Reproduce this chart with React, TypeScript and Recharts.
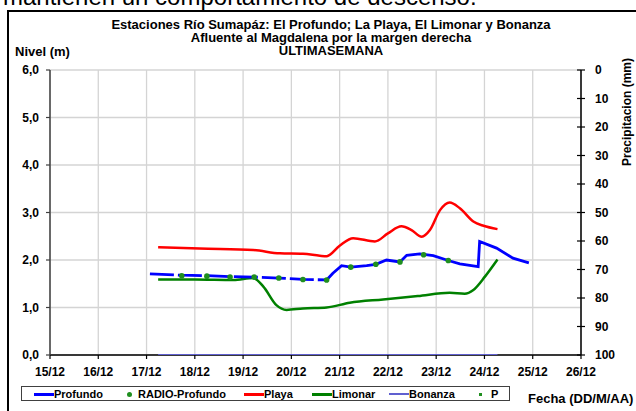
import React from "react";
import { ComposedChart, Line, XAxis, YAxis, CartesianGrid } from "recharts";

// ---- data ----
const dayTicks = [15, 16, 17, 18, 19, 20, 21, 22, 23, 24, 25, 26];
const levelTicks = [0, 1, 2, 3, 4, 5, 6];
const rainTicks = [0, 10, 20, 30, 40, 50, 60, 70, 80, 90, 100];

// Profundo: first stretch has gaps in the record (drawn dashed), second stretch is continuous
const profundoDaysA = [17.07, 17.73, 18.25, 18.73, 19.23, 19.74, 20.24, 20.73];
const profundoLevelsA = [1.71, 1.68, 1.67, 1.65, 1.64, 1.62, 1.59, 1.58];
const profundoDaysB = [20.73, 20.86, 21.04, 21.23, 21.56, 21.75, 21.97, 22.25, 22.39, 22.66, 22.94, 23.25, 23.49, 23.87, 23.9, 24.25, 24.59, 24.92];
const profundoLevelsB = [1.58, 1.72, 1.88, 1.85, 1.88, 1.91, 2.0, 1.96, 2.1, 2.13, 2.09, 1.99, 1.92, 1.86, 2.39, 2.25, 2.04, 1.94];

const radioDays = [17.73, 18.25, 18.73, 19.23, 19.74, 20.24, 20.73, 21.23, 21.75, 22.25, 22.74, 23.25];
const radioLevels = [1.67, 1.66, 1.64, 1.64, 1.62, 1.59, 1.58, 1.85, 1.91, 1.96, 2.11, 1.99];

const playaDays = [17.24, 18.1, 19.21, 19.76, 20.24, 20.59, 20.73, 21.0, 21.28, 21.73, 22.0, 22.28, 22.49, 22.7, 22.87, 23.08, 23.28, 23.49, 23.77, 23.98, 24.27];
const playaLevels = [2.27, 2.24, 2.21, 2.14, 2.13, 2.09, 2.08, 2.3, 2.46, 2.39, 2.56, 2.71, 2.63, 2.49, 2.63, 3.05, 3.21, 3.09, 2.81, 2.72, 2.65];

const limonarDays = [17.24, 18.0, 18.8, 19.21, 19.42, 19.69, 19.9, 20.24, 20.73, 21.21, 21.9, 22.62, 23.28, 23.59, 23.77, 24.01, 24.27];
const limonarLevels = [1.59, 1.59, 1.58, 1.62, 1.44, 1.05, 0.95, 0.98, 1.0, 1.1, 1.17, 1.24, 1.31, 1.29, 1.37, 1.65, 2.01];

const bonanzaDays = [17.24, 24.27];
const bonanzaLevels = [0, 0];

const titleLines = [
  "Estaciones Río Sumapáz: El Profundo; La Playa, El Limonar y Bonanza",
  "Afluente al Magdalena por la margen derecha",
  "ULTIMASEMANA",
];

const toRows = (days: number[], vals: number[]) => days.map((d, i) => ({ d, v: vals[i] }));

const FONT = "'Liberation Sans', Arial, sans-serif";
const BLUE = "#0000ff";
const RED = "#ff0000";
const GREEN = "#008000";
const DOT_GREEN = "#1f8f1f";
const BONANZA = "#6060d0";

function RightTick(props: any) {
  const { x, y, payload } = props;
  return (
    <g>
      <line x1={x - 18} x2={x - 14} y1={y} y2={y} stroke="#000" strokeWidth={1.2} />
      <text x={x} y={y} dy="0.355em" textAnchor="start" fontSize={12} fontWeight="bold" fill="#000" fontFamily={FONT}>
        {payload.value}
      </text>
    </g>
  );
}

const legendItems = [
  { name: "Profundo", kind: "line", color: BLUE, w: 3, left: 33 },
  { name: "RADIO-Profundo", kind: "dot", color: DOT_GREEN, w: 5, left: 126 },
  { name: "Playa", kind: "line", color: RED, w: 3, left: 243 },
  { name: "Limonar", kind: "line", color: GREEN, w: 3, left: 311 },
  { name: "Bonanza", kind: "line", color: BONANZA, w: 1.5, left: 388 },
  { name: "P", kind: "square", color: DOT_GREEN, w: 3, left: 478 },
];

export default function App() {
  const tick = { fill: "#000", fontSize: 12, fontWeight: "bold" as const, fontFamily: FONT };
  return (
    <div style={{ position: "absolute", left: 0, top: 0, width: 636, height: 411, overflow: "hidden", background: "#fff", fontFamily: FONT }}>
      <div style={{ position: "absolute", left: 3, top: -15, fontSize: 24, lineHeight: "24px", whiteSpace: "nowrap", color: "#000" }}>
        mantienen un comportamiento de descenso.
      </div>
      <div style={{ position: "absolute", left: 6.5, top: 9.5, width: 700, height: 500, borderTop: "2.5px solid #000", borderLeft: "2.5px solid #000" }} />

      {titleLines.map((t, i) => (
        <div
          key={t}
          style={{ position: "absolute", left: 81, width: 500, top: [19.1, 31.6, 45.4][i], textAlign: "center", fontSize: 13, lineHeight: "12px", fontWeight: "bold", whiteSpace: "nowrap" }}
        >
          {t}
        </div>
      ))}
      <div style={{ position: "absolute", left: 15, top: 44.9, fontSize: 13, lineHeight: "13px", fontWeight: "bold" }}>Nivel (m)</div>
      <div
        style={{ position: "absolute", left: 627, top: 112, fontSize: 12, lineHeight: "12px", fontWeight: "bold", whiteSpace: "nowrap", transform: "translate(-50%, -50%) rotate(-90deg)" }}
      >
        Precipitacion (mm)
      </div>
      <div style={{ position: "absolute", left: 528, top: 391.6, fontSize: 13, lineHeight: "13px", fontWeight: "bold", whiteSpace: "nowrap" }}>Fecha (DD/M/AA)</div>

      <div style={{ position: "absolute", left: 0, top: 0 }}>
        <ComposedChart width={636} height={411} margin={{ top: 70, right: 0, bottom: 26, left: 0 }}>
          <CartesianGrid yAxisId="left" stroke="#d4d4d4" strokeWidth={1.3} />
          <XAxis
            dataKey="d"
            type="number"
            domain={[15, 26]}
            ticks={dayTicks}
            tickFormatter={(d) => `${d}/12`}
            allowDataOverflow
            height={30}
            tickSize={4}
            tickMargin={8}
            tick={tick}
            stroke="#000"
            axisLine={{ stroke: "#000", strokeWidth: 1.5 }}
            tickLine={{ stroke: "#000", strokeWidth: 1.2 }}
            interval={0}
          />
          <YAxis
            yAxisId="left"
            type="number"
            domain={[0, 6]}
            allowDataOverflow
            ticks={levelTicks}
            tickFormatter={(v) => v.toFixed(1).replace(".", ",")}
            width={50}
            tickSize={4}
            tickMargin={7}
            tick={tick}
            axisLine={{ stroke: "#404040", strokeWidth: 1.5 }}
            tickLine={{ stroke: "#404040", strokeWidth: 1.2 }}
            interval={0}
          />
          <YAxis
            yAxisId="right"
            orientation="right"
            type="number"
            domain={[0, 100]}
            allowDataOverflow
            reversed
            ticks={rainTicks}
            width={55}
            tickSize={4}
            tickMargin={10}
            tick={<RightTick />}
            axisLine={{ stroke: "#000", strokeWidth: 1.5 }}
            tickLine={{ stroke: "#000", strokeWidth: 1.2 }}
            interval={0}
          />
          <Line yAxisId="left" data={toRows(playaDays, playaLevels)} dataKey="v" type="monotone" stroke={RED} strokeWidth={2.5} dot={false} isAnimationActive={false} />
          <Line yAxisId="left" data={toRows(limonarDays, limonarLevels)} dataKey="v" type="monotone" stroke={GREEN} strokeWidth={2.5} dot={false} isAnimationActive={false} />
          <Line
            yAxisId="left"
            data={toRows(profundoDaysA, profundoLevelsA)}
            dataKey="v"
            type="linear"
            stroke={BLUE}
            strokeWidth={2.8}
            strokeDasharray="24 4"
            dot={false}
            isAnimationActive={false}
          />
          <Line
            yAxisId="left"
            data={toRows(profundoDaysB, profundoLevelsB)}
            dataKey="v"
            type="linear"
            stroke={BLUE}
            strokeWidth={2.8}
            dot={false}
            isAnimationActive={false}
          />
          <Line
            yAxisId="left"
            data={toRows(radioDays, radioLevels)}
            dataKey="v"
            stroke="none"
            dot={{ r: 2.8, fill: DOT_GREEN, stroke: "none" }}
            isAnimationActive={false}
          />
          <Line
            yAxisId="left"
            data={toRows(bonanzaDays, bonanzaLevels)}
            dataKey="v"
            type="linear"
            stroke={BONANZA}
            strokeWidth={1.8}
            dot={false}
            isAnimationActive={false}
            {...({ zIndex: 600 } as any)}
          />
          <Line yAxisId="right" data={[{ d: 15, v: null }]} dataKey="v" stroke={DOT_GREEN} dot={false} isAnimationActive={false} />
        </ComposedChart>
      </div>

      <div style={{ position: "absolute", left: 21, top: 386, width: 489, height: 15, border: "1px solid #404040", boxSizing: "border-box" }}>
        {legendItems.map((it) => (
          <div key={it.name} style={{ position: "absolute", left: it.left - 21, top: 0, height: 14, display: "flex", alignItems: "center", whiteSpace: "nowrap" }}>
            {it.kind === "line" && <span style={{ display: "inline-block", width: 20, height: it.w, background: it.color }} />}
            {it.kind === "dot" && <span style={{ display: "inline-block", width: it.w, height: it.w, borderRadius: "50%", background: it.color, marginRight: 6 }} />}
            {it.kind === "square" && <span style={{ display: "inline-block", width: it.w, height: it.w, background: it.color, marginRight: 9 }} />}
            <span style={{ fontSize: 11, fontWeight: "bold", lineHeight: "11px" }}>{it.name}</span>
          </div>
        ))}
      </div>
    </div>
  );
}
